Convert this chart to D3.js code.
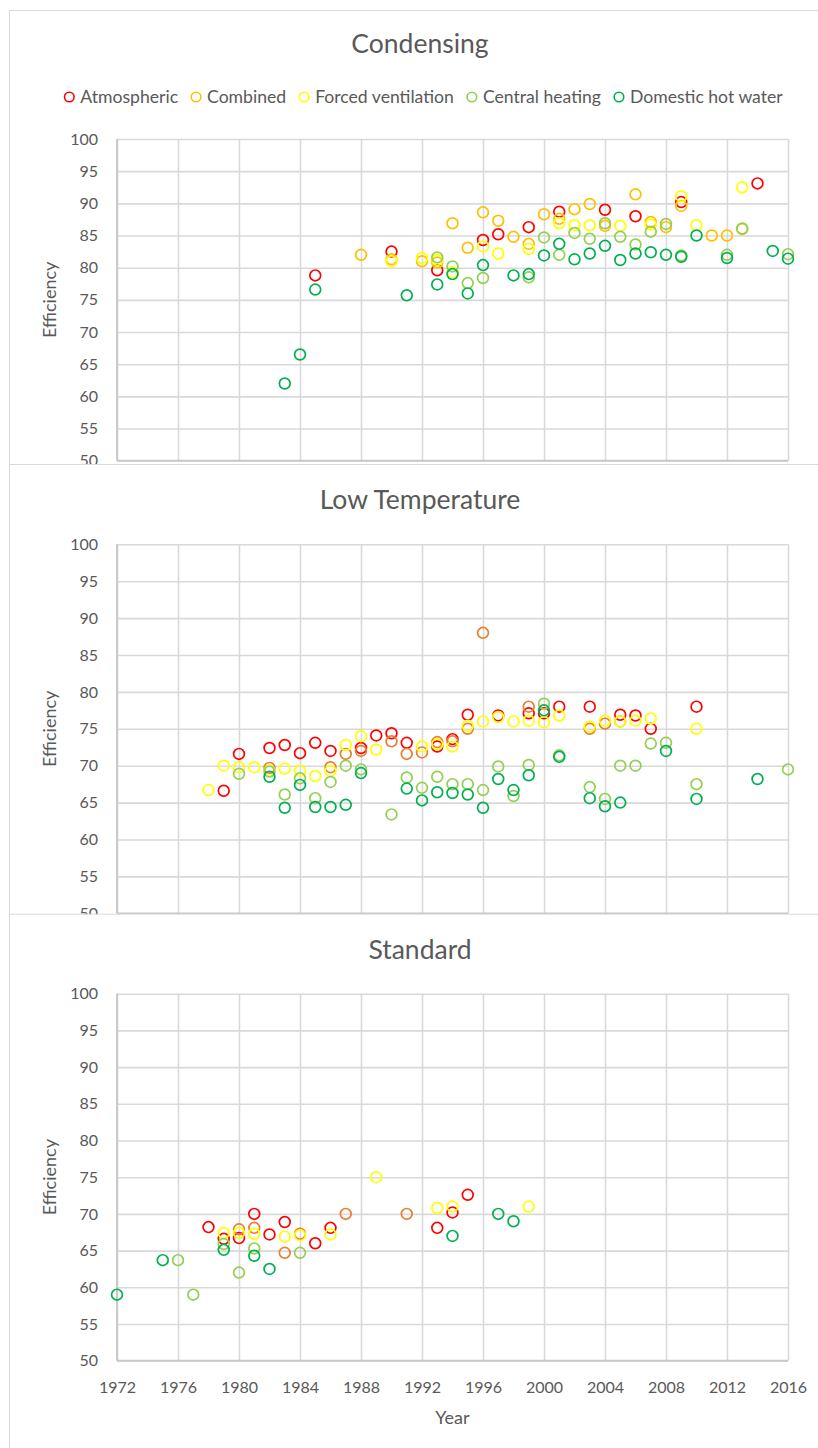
<!DOCTYPE html>
<html>
<head>
<meta charset="utf-8">
<script src="https://cdn.jsdelivr.net/npm/d3@7"></script>
<style>
  body { margin: 0; background: #fff; }
  text { font-family: Lato, "Open Sans", sans-serif; fill: #595959; }
</style>
</head>
<body>
<div id="chart"></div>
<script>
// boiler efficiency by year, three panels
var seriesNames = ["Atmospheric", "Combined", "Forced ventilation", "Central heating", "Domestic hot water"];
var xTickValues = [1972, 1976, 1980, 1984, 1988, 1992, 1996, 2000, 2004, 2008, 2012, 2016];
var yTickValues = [50, 55, 60, 65, 70, 75, 80, 85, 90, 95, 100];

// Condensing
var condAtmospheric = [[1985,78.8],[1990,82.5],[1993,79.6],[1996,84.3],[1997,85.2],[1999,86.3],[2001,88.7],[2004,89.0],[2006,88.0],[2009,90.2],[2014,93.1]];
var condCombined = [[1988,82.0],[1990,81.3],[1992,81.0],[1993,80.8],[1994,86.9],[1995,83.1],[1996,88.6],[1997,87.3],[1998,84.8],[1999,83.7],[2000,88.3],[2001,87.6],[2002,89.1],[2003,89.9],[2004,86.5],[2006,91.4],[2007,87.1],[2008,86.3],[2009,89.6],[2011,85.0],[2012,85.0],[2013,86.0]];
var condForced = [[1990,81.0],[1992,81.5],[1993,81.2],[1994,79.3],[1996,83.3],[1997,82.2],[1999,82.9],[2001,86.9],[2002,86.6],[2003,86.6],[2005,86.5],[2007,86.7],[2009,91.1],[2010,86.6],[2013,92.5]];
var condCentral = [[1993,81.6],[1994,80.2],[1995,77.6],[1996,78.4],[1999,78.5],[2000,84.7],[2001,82.0],[2002,85.4],[2003,84.5],[2004,86.9],[2005,84.8],[2006,83.6],[2007,85.6],[2008,86.8],[2009,81.9],[2012,82.0],[2013,86.1],[2016,82.1]];
var condDHW = [[1983,62.0],[1984,66.5],[1985,76.6],[1991,75.7],[1993,77.4],[1994,79.0],[1995,76.0],[1996,80.4],[1998,78.8],[1999,79.0],[2000,81.9],[2001,83.7],[2002,81.3],[2003,82.2],[2004,83.4],[2005,81.2],[2006,82.2],[2007,82.4],[2008,82.0],[2009,81.7],[2010,85.0],[2012,81.5],[2015,82.6],[2016,81.4]];

// Low Temperature
var ltAtmospheric = [[1979,66.6],[1980,71.6],[1982,72.4],[1983,72.8],[1984,71.7],[1985,73.1],[1986,72.0],[1988,72.4],[1989,74.1],[1990,74.4],[1991,73.1],[1993,72.6],[1994,73.6],[1995,76.9],[1997,76.8],[1999,77.1],[2000,77.1],[2001,78.0],[2003,78.0],[2005,76.9],[2006,76.8],[2007,75.0],[2010,78.0]];
var ltCombined = [[1982,69.7],[1986,69.8],[1987,71.6],[1988,72.0],[1990,73.3],[1991,71.6],[1992,71.8],[1993,73.2],[1994,73.3],[1995,75.0],[1996,88.0],[1999,78.0],[2003,75.0],[2004,75.7],[2005,76.0]];
var ltForced = [[1978,66.7],[1979,70.0],[1980,69.8],[1981,69.8],[1982,69.3],[1983,69.6],[1984,69.3],[1985,68.6],[1986,69.3],[1987,72.8],[1988,74.0],[1989,72.2],[1992,72.6],[1993,72.9],[1994,72.6],[1995,75.4],[1996,76.0],[1997,76.6],[1998,76.0],[1999,76.1],[2000,75.9],[2001,76.8],[2003,75.3],[2004,76.1],[2005,76.0],[2006,76.1],[2007,76.4],[2010,75.0]];
var ltCentral = [[1980,68.9],[1982,69.2],[1983,66.1],[1984,68.3],[1985,65.6],[1986,67.8],[1987,70.0],[1988,69.5],[1990,63.4],[1991,68.4],[1992,67.0],[1993,68.5],[1994,67.5],[1995,67.5],[1996,66.7],[1997,69.9],[1998,65.9],[1999,70.1],[2000,78.4],[2001,71.4],[2003,67.1],[2004,65.5],[2005,70.0],[2006,70.0],[2007,73.0],[2008,73.1],[2010,67.5],[2016,69.5]];
var ltDHW = [[1982,68.5],[1983,64.3],[1984,67.4],[1985,64.4],[1986,64.4],[1987,64.7],[1988,69.0],[1991,66.9],[1992,65.3],[1993,66.4],[1994,66.3],[1995,66.1],[1996,64.3],[1997,68.2],[1998,66.7],[1999,68.7],[2000,77.5],[2001,71.2],[2003,65.6],[2004,64.5],[2005,65.0],[2008,72.0],[2010,65.5],[2014,68.2]];

// Standard
var stAtmospheric = [[1978,68.2],[1979,66.6],[1980,66.7],[1981,70.0],[1982,67.2],[1983,68.9],[1985,66.0],[1986,68.1],[1993,68.1],[1994,70.2],[1995,72.6]];
var stCombined = [[1980,67.9],[1981,68.1],[1983,64.7],[1984,67.3],[1987,70.0],[1991,70.0]];
var stForced = [[1979,67.4],[1980,67.4],[1981,67.3],[1983,66.9],[1984,67.1],[1986,67.2],[1989,75.0],[1993,70.8],[1994,71.0],[1999,71.0]];
var stCentral = [[1976,63.7],[1977,59.0],[1979,65.9],[1980,62.0],[1981,65.3],[1984,64.7]];
var stDHW = [[1972,59.0],[1975,63.7],[1979,65.1],[1981,64.3],[1982,62.5],[1994,67.0],[1997,70.0],[1998,69.0]];

var svgWidth = 818;
var svgHeight = 1448;
var plotLeft = 117, plotRight = 788;

var svg = d3.select("#chart")
  .append("svg")
  .attr("width", svgWidth)
  .attr("height", svgHeight);

var xScale = d3.scaleLinear()
  .domain([1972, 2016])
  .range([plotLeft, plotRight]);

// the lower part of the first two charts (x labels) is covered by the next one
var panels = [
  {title: "Condensing", top: 10, titleY: 53, plotTop: 139, plotBottom: 460.7, legend: true, xLabels: false,
   series: [condAtmospheric, condCombined, condForced, condCentral, condDHW],
   colors: ["#FF0000", "#FFC000", "#FFFF00", "#92D050", "#00B050"]},
  {title: "Low Temperature", top: 464, titleY: 509, plotTop: 544.3, plotBottom: 913.3, legend: false, xLabels: false,
   series: [ltAtmospheric, ltCombined, ltForced, ltCentral, ltDHW],
   colors: ["#FF0000", "#ED7D31", "#FFFF00", "#92D050", "#00B050"]},
  {title: "Standard", top: 913.7, titleY: 959, plotTop: 993.7, plotBottom: 1360.7, legend: false, xLabels: true,
   series: [stAtmospheric, stCombined, stForced, stCentral, stDHW],
   colors: ["#FF0000", "#ED7D31", "#FFFF00", "#92D050", "#00B050"]}
];

panels.forEach(function(p) {
  var g = svg.append("g");
  g.append("rect")
    .attr("x", 9.5)
    .attr("y", p.top + 0.5)
    .attr("width", 822)
    .attr("height", 560)
    .attr("fill", "#fff")
    .attr("stroke", "#d9d9d9")
    .attr("stroke-width", 1);

  g.append("text")
    .attr("x", 420)
    .attr("y", p.titleY)
    .attr("text-anchor", "middle")
    .attr("font-size", "26.5px")
    .text(p.title);

  var yScale = d3.scaleLinear()
    .domain([50, 100])
    .range([p.plotBottom, p.plotTop]);

  // gridlines + tick labels
  var yAxis = g.append("g")
    .attr("transform", `translate(${plotLeft}, 0)`)
    .call(d3.axisLeft(yScale).tickValues(yTickValues).tickSize(-(plotRight - plotLeft)).tickPadding(19));
  var xAxis = g.append("g")
    .attr("transform", `translate(0, ${p.plotBottom})`)
    .call(d3.axisBottom(xScale).tickValues(xTickValues)
      .tickFormat(p.xLabels ? d3.format("d") : "")
      .tickSize(-(p.plotBottom - p.plotTop)).tickPadding(21));
  if (!p.xLabels) xAxis.selectAll(".tick text").remove();
  [yAxis, xAxis].forEach(function(a) {
    a.select(".domain").remove();
    a.selectAll(".tick line").attr("stroke", "#d9d9d9").attr("stroke-width", 1.6);
    a.selectAll(".tick text")
      .attr("fill", "#595959")
      .attr("font-size", "16px")
      .attr("font-family", "Lato, sans-serif");
  });
  // axis lines
  g.append("line")
    .attr("x1", plotLeft).attr("x2", plotLeft)
    .attr("y1", p.plotTop).attr("y2", p.plotBottom)
    .attr("stroke", "#c8c8c8").attr("stroke-width", 1.8);
  g.append("line")
    .attr("x1", plotLeft).attr("x2", plotRight)
    .attr("y1", p.plotBottom).attr("y2", p.plotBottom)
    .attr("stroke", "#c8c8c8").attr("stroke-width", 1.8);

  g.append("text")
    .attr("transform", `translate(56, ${(p.plotTop + p.plotBottom) / 2}) rotate(-90)`)
    .attr("text-anchor", "middle")
    .attr("font-size", "18px")
    .text("Efficiency");
  if (p.xLabels) {
    g.append("text")
      .attr("x", (plotLeft + plotRight) / 2)
      .attr("y", p.plotBottom + 63.5)
      .attr("text-anchor", "middle")
      .attr("font-size", "18px")
      .text("Year");
  }

  // markers
  p.series.forEach(function(data, i) {
    g.append("g").selectAll("circle")
      .data(data)
      .enter()
      .append("circle")
      .attr("cx", d => xScale(d[0]))
      .attr("cy", d => yScale(d[1]))
      .attr("r", 5.4)
      .attr("fill", "none")
      .attr("stroke", p.colors[i])
      .attr("stroke-width", 1.7);
  });

  if (p.legend) {
    var leg = g.append("g");
    var x = 0;
    seriesNames.forEach(function(name, i) {
      var item = leg.append("g").attr("transform", `translate(${x}, 97)`);
      item.append("circle")
        .attr("cx", 5).attr("cy", 0).attr("r", 4.8)
        .attr("fill", "none").attr("stroke", p.colors[i]).attr("stroke-width", 1.6);
      var t = item.append("text")
        .attr("x", 16).attr("y", 0)
        .attr("dy", "0.35em")
        .attr("font-size", "17.6px")
        .text(name);
      x += 16 + t.node().getComputedTextLength() + 13;
    });
    var legWidth = x - 13;
    leg.attr("transform", `translate(${423.5 - legWidth / 2}, 0)`);
  }
});
</script>
</body>
</html>
